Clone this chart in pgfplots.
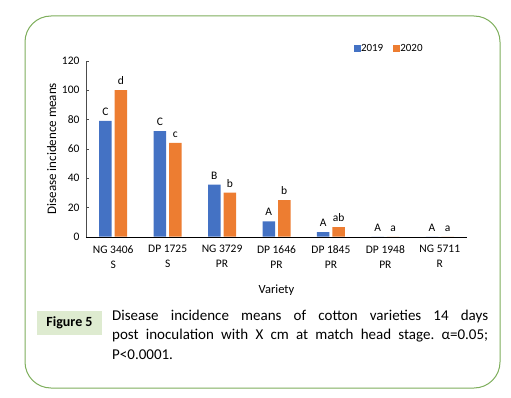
\documentclass[border=0pt]{standalone}
\usepackage{pgfplots}
\pgfplotsset{compat=1.18}
\usepackage{fontspec}
\setmainfont{Carlito}
\frenchspacing
\definecolor{c19}{HTML}{4472C4}
\definecolor{c20}{HTML}{ED7D31}
\definecolor{frame}{HTML}{7EAE5C}
\definecolor{figbox}{HTML}{DEEBD0}
\begin{document}
\begin{tikzpicture}[x=1pt,y=1pt]
\useasboundingbox (0,0) rectangle (511,397);
\draw[frame, line width=1pt, rounded corners=26pt] (25,9) rectangle (500,381);
\begin{axis}[
  at={(86pt,160.3pt)}, anchor=south west,
  scale only axis, width=381pt, height=176pt,
  xmin=-0.5, xmax=6.5, ymin=0, ymax=120,
  axis x line*=bottom, axis y line*=left,
  x axis line style={-, black},
  y axis line style={-, black!70},
  xtick={0,...,6}, xticklabels={{NG 3406\\S},{DP 1725\\S},{NG 3729\\PR},{DP 1646\\PR},{DP 1845\\PR},{DP 1948\\PR},{NG 5711\\R}},
  xticklabel style={align=center, font=\fontsize{11.5}{15}\selectfont, yshift=-2pt},
  major x tick style={draw=none},
  extra x ticks={-0.5,0.5,1.5,2.5,3.5,4.5,5.5,6.5},
  extra x tick labels={},
  extra x tick style={tick style={draw=black}, major tick length=4pt, tick align=outside},
  ytick={0,20,...,120},
  yticklabel style={font=\fontsize{11.5}{12}\selectfont, xshift=-3pt},
  y tick style={black!70},
  major tick length=3pt, tick align=inside,
  /pgf/number format/assume math mode=true,
  xlabel={Variety}, xlabel style={font=\fontsize{12.5}{13}\selectfont, yshift=-3pt},
  ylabel={Disease incidence means}, ylabel style={font=\fontsize{13}{13}\selectfont, yshift=-1pt},
  ybar=3pt, bar width=12.5pt,
  nodes near coords, point meta=explicit symbolic,
  every node near coord/.append style={font=\fontsize{11.5}{12}\selectfont, anchor=south, yshift=2pt},
  legend style={at={(0.695,1.118)}, anchor=north west, draw=none, fill=none,
    font=\fontsize{11}{12}\selectfont, legend columns=2,
    /tikz/every odd column/.append style={column sep=-2pt},
    /tikz/every even column/.append style={column sep=8pt}},
  legend image code/.code={\fill[#1] (1pt,-3.5pt) rectangle (8pt,3.5pt);},
]
\addplot[fill=c19, draw=none] coordinates {(0,79)[C] (1,72)[C] (2,35.5)[B] (3,10.5)[A] (4,3.2)[A] (5,0)[A] (6,0)[A]};
\addplot[fill=c20, draw=none] coordinates {(0,100)[d] (1,64)[c] (2,30)[b] (3,25)[b] (4,6.5)[ab] (5,0)[a] (6,0)[a]};
\legend{2019,2020}
\end{axis}
\fill[figbox] (37,62) rectangle (102,86);
\node[font=\bfseries\fontsize{14}{15}\selectfont] at (69.5,74) {Figure 5};
\node[anchor=north west, inner sep=0pt, text width=376pt, align=justify,
  font=\fontsize{15}{19.3}\selectfont] at (112,87)
  {Disease incidence means of cotton varieties 14 days\linebreak post inoculation with X cm at match head stage. α=0.05;\linebreak P<0.0001.};
\end{tikzpicture}
\end{document}
